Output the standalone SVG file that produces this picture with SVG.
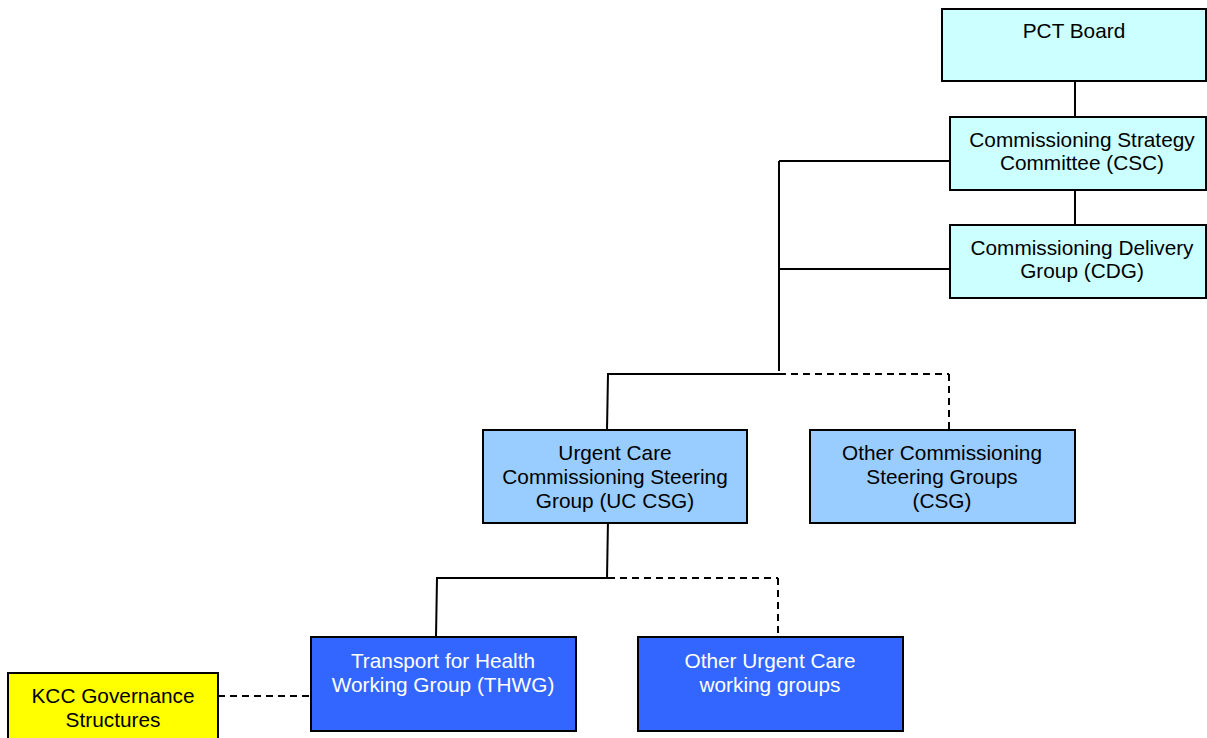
<svg xmlns="http://www.w3.org/2000/svg" width="1207" height="738" viewBox="0 0 1207 738">
  <style>
    .box { stroke: #000; stroke-width: 2; }
    .l1 { fill: #ccffff; }
    .l2 { fill: #99ccff; }
    .l3 { fill: #3366ff; }
    .ext { fill: #ffff00; }
    text { font-family: "Liberation Sans", Arial, sans-serif; font-size: 20.8px; text-anchor: middle; fill: #000; }
    .w { fill: #fff; }
    .solid { stroke: #000; stroke-width: 2; fill: none; }
    .dash { stroke: #000; stroke-width: 2; fill: none; stroke-dasharray: 7 5; }
  </style>

  <g id="connectors">
    <line class="solid" x1="1075" y1="81" x2="1075" y2="123"/>
    <line class="solid" x1="1075" y1="182" x2="1075" y2="229"/>
    <line class="solid" x1="779" y1="161" x2="779" y2="371"/>
    <line class="solid" x1="779" y1="161" x2="950" y2="161"/>
    <line class="solid" x1="779" y1="269" x2="950" y2="269"/>
    <line class="solid" x1="607" y1="374" x2="779" y2="374"/>
    <line class="dash" x1="779" y1="374" x2="949" y2="374"/>
    <line class="dash" x1="949" y1="374" x2="949" y2="430"/>
    <line class="solid" x1="608" y1="374" x2="607" y2="430"/>
    <line class="solid" x1="608" y1="520" x2="607" y2="578"/>
    <line class="solid" x1="436" y1="578" x2="608" y2="578"/>
    <line class="dash" x1="608" y1="578" x2="778" y2="578"/>
    <line class="dash" x1="778" y1="578" x2="778" y2="637"/>
    <line class="solid" x1="437" y1="578" x2="436" y2="637"/>
    <line class="dash" x1="218" y1="696" x2="311" y2="696"/>
  </g>

  <g id="pct-board">
    <rect class="box l1" x="942" y="9" width="264" height="72"/>
    <text x="1074" y="38">PCT Board</text>
  </g>
  <g id="csc">
    <rect class="box l1" x="950" y="117" width="256" height="73"/>
    <text x="1082" y="147">Commissioning Strategy</text>
    <text x="1082" y="170">Committee (CSC)</text>
  </g>
  <g id="cdg">
    <rect class="box l1" x="950" y="225" width="256" height="73"/>
    <text x="1082" y="255">Commissioning Delivery</text>
    <text x="1082" y="278">Group (CDG)</text>
  </g>
  <g id="uc-csg">
    <rect class="box l2" x="483" y="430" width="264" height="93"/>
    <text x="615" y="460">Urgent Care</text>
    <text x="615" y="484">Commissioning Steering</text>
    <text x="615" y="508">Group (UC CSG)</text>
  </g>
  <g id="other-csg">
    <rect class="box l2" x="810" y="430" width="265" height="93"/>
    <text x="942" y="460">Other Commissioning</text>
    <text x="942" y="484">Steering Groups</text>
    <text x="942" y="508">(CSG)</text>
  </g>
  <g id="thwg">
    <rect class="box l3" x="311" y="637" width="265" height="94"/>
    <text class="w" x="443" y="668">Transport for Health</text>
    <text class="w" x="443" y="692">Working Group (THWG)</text>
  </g>
  <g id="other-uc">
    <rect class="box l3" x="638" y="637" width="265" height="94"/>
    <text class="w" x="770" y="668">Other Urgent Care</text>
    <text class="w" x="770" y="692">working groups</text>
  </g>
  <g id="kcc">
    <rect class="box ext" x="8" y="673" width="210" height="70"/>
    <text x="113" y="703">KCC Governance</text>
    <text x="113" y="727">Structures</text>
  </g>
</svg>
